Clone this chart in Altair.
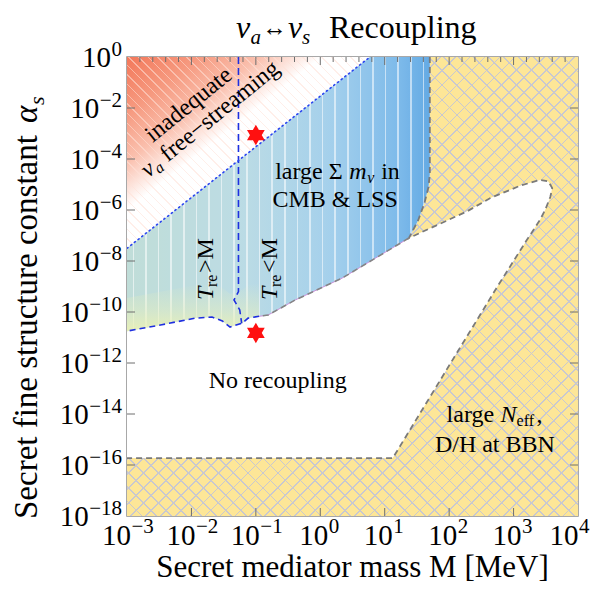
import altair as alt
import pandas as pd
import numpy as np

SERIF = "Liberation Serif"
W, H = 451, 459  # plot area in px

# ---------------- data (log10 units) ----------------
blue_top_lx = [-3.0, 0.77]
blue_top_ly = [-7.5, 0.0]

blue_right_lx = [1.70, 1.70, 1.68, 1.62, 1.52, 1.375]
blue_right_ly = [0.0, -4.6, -5.1, -5.7, -6.4, -7.1]

blue_bottom_lx = [1.375, 0.34, -0.39, -0.81, -0.95, -1.12, -1.21, -1.40, -1.52, -1.68, -1.94, -2.46, -3.0]
blue_bottom_ly = [-7.1, -8.67, -9.53, -10.12, -10.17, -10.24, -10.43, -10.59, -10.35, -10.2, -10.24, -10.5, -10.75]

white_top_lx = [1.375, 2.28, 2.64, 3.10, 3.41, 3.54, 3.60, 3.57, 3.49, 3.41]
white_top_ly = [-7.1, -6.05, -5.53, -5.05, -4.82, -4.88, -5.14, -5.49, -6.0, -6.39]
bbn_diag_lx = [3.41, 3.2, 2.75, 2.0, 1.125]
bbn_diag_ly = [-6.39, -7.2, -9.0, -12.1, -15.73]
bbn_flat_lx = [1.125, -3.0]
bbn_flat_ly = [-15.73, -15.73]

tre_lx = [-1.27, -1.27, -1.34, -1.25, -1.22]
tre_ly = [0.0, -9.2, -9.53, -9.92, -10.45]

star_lx = [-1.0, -1.0]
star_ly = [-3.06, -10.82]

x_tick_exp = [-3, -2, -1, 0, 1, 2, 3, 4]
y_tick_exp = [0, -2, -4, -6, -8, -10, -12, -14, -16, -18]

# ---------------- helpers ----------------
xs = alt.Scale(type="log", domain=[1e-3, 1e4], nice=False)
ys = alt.Scale(type="log", domain=[1e-18, 1.0], nice=False)
X = alt.X("x:Q", scale=xs, axis=None)
Y = alt.Y("y:Q", scale=ys, axis=None)


def poly(lx, ly):
    return pd.DataFrame({"x": 10.0 ** np.array(lx, float), "y": 10.0 ** np.array(ly, float),
                         "i": np.arange(len(lx))})


def polygon(df, fill, **kw):
    return alt.Chart(df).mark_line(fill=fill, strokeOpacity=0, clip=True, **kw).encode(
        x=X, y=Y, order=alt.Order("i:Q"))


def path(df, color, width, dash=None, **kw):
    extra = {"strokeDash": dash} if dash else {}
    return alt.Chart(df).mark_line(color=color, strokeWidth=width, clip=True, **extra, **kw).encode(
        x=X, y=Y, order=alt.Order("i:Q"))


def grad(stops, x1, y1, x2, y2):
    return alt.LinearGradient(gradient="linear",
                              stops=[alt.GradientStop(offset=float(o), color=c) for o, c in stops],
                              x1=x1, y1=y1, x2=x2, y2=y2)


def stripe_stops(n, frac, col, bg):
    st = []
    for k in range(n + 1):
        c = k / n
        a = max(0.0, c - frac / 2)
        b = min(1.0, c + frac / 2)
        st += [(a, bg), (a, col), (b, col), (b, bg)]
    return st


def diag_params(wp, hp, kind):
    t = (1 / hp + 1 / wp) / (1 / hp ** 2 + 1 / wp ** 2)
    if kind == "/":
        return 0, 0, t / hp, t / wp
    return 0, 1, t / hp, 1 - t / wp


def hatch(wp, hp, kind, spacing, lw, col):
    span = (wp + hp) / np.sqrt(2)
    n = int(round(span / spacing))
    x1, y1, x2, y2 = diag_params(wp, hp, kind)
    return grad(stripe_stops(n, lw / span, col, "rgba(255,255,255,0)"), x1, y1, x2, y2)


def txt(lx, ly, t, **kw):
    df = pd.DataFrame({"x": [10.0 ** lx], "y": [10.0 ** ly], "t": [t]})
    return alt.Chart(df).mark_text(font=SERIF, color="black", **kw).encode(x=X, y=Y, text="t:N")


def ptxt(px, py, t, **kw):
    df = pd.DataFrame({"t": [t]})
    return alt.Chart(df).mark_text(font=SERIF, color="black", **kw).encode(
        x=alt.value(px), y=alt.value(py), text="t:N")


layers = []

# ---- yellow BBN region with cross hatch ----
full = pd.DataFrame({"x": [1e-3], "x2": [1e4], "y": [1e-18], "y2": [1.0]})
rectenc = dict(x=X, x2="x2:Q", y=Y, y2="y2:Q")
layers.append(alt.Chart(full).mark_rect(color="#FDE697").encode(**rectenc))
for kind in ["/", "\\"]:
    layers.append(alt.Chart(full).mark_rect(fill=hatch(W, H, kind, 10.6, 1.2, "#C8C8D0")).encode(**rectenc))

# ---- white complement ----
comp = poly([-3.0] + blue_right_lx + white_top_lx[1:] + bbn_diag_lx[1:] + bbn_flat_lx[1:],
            [0.0] + blue_right_ly + white_top_ly[1:] + bbn_diag_ly[1:] + bbn_flat_ly[1:])
layers.append(polygon(comp, "#FFFFFF"))

# ---- red region ----
red = poly([-3.0, blue_top_lx[1], blue_top_lx[0]], [0.0, blue_top_ly[1], blue_top_ly[0]])
rw = (blue_top_lx[1] + 3) * W / 7
rh = (0 - blue_top_ly[0]) * H / 18
layers.append(polygon(red, grad([(0, "#F3785A"), (0.3, "#F69A80"), (0.55, "#FAC0AE"), (0.8, "#FFFFFF"), (1, "#FFFFFF")],
                                0, 0, 0.5, 0.5)))
layers.append(polygon(red, hatch(rw, rh, "\\", 6.8, 1.0, "rgba(255,225,215,0.55)")))

# ---- blue region ----
blue = poly(blue_top_lx + blue_right_lx + blue_bottom_lx[1:], blue_top_ly + blue_right_ly + blue_bottom_ly[1:])
anch = [(0.0, (192, 221, 216)), (0.37, (188, 220, 228)), (0.67, (165, 208, 236)), (0.9, (125, 186, 234)), (1.0, (100, 170, 228))]


def base_col(o):
    for (o1, c1), (o2, c2) in zip(anch[:-1], anch[1:]):
        if o <= o2:
            f = (o - o1) / (o2 - o1)
            return tuple(c1[j] + f * (c2[j] - c1[j]) for j in range(3))
    return anch[-1][1]


def hexc(c):
    return "#%02X%02X%02X" % tuple(int(round(v)) for v in c)


bw = (blue_right_lx[0] + 3) * W / 7
nstr = 24
d = 0.8 / bw
bstops = [(0.0, hexc(base_col(0)))]
for k in range(nstr):
    c = (k + 0.5) / nstr
    b0 = base_col(c - d)
    lt = tuple(v + 0.55 * (255 - v) for v in base_col(c))
    bstops += [(c - d, hexc(b0)), (c - d, hexc(lt)), (c + d, hexc(lt)), (c + d, hexc(base_col(c + d)))]
bstops.append((1.0, hexc(base_col(1))))
layers.append(polygon(blue, grad(bstops, 0, 0, 1, 0)))

# yellow-green tint along the lower-left edge of the blue region
tint_lx = blue_bottom_lx[4:]
tint_ly = blue_bottom_ly[4:]
tint = poly(tint_lx + tint_lx[::-1], tint_ly + [v + 1.3 for v in tint_ly[::-1]])
layers.append(polygon(tint, grad([(0, "rgba(232,240,190,0)"), (0.55, "rgba(232,240,190,0.45)"),
                                  (1, "rgba(236,242,180,0.9)")], 0, 0, 0, 1)))

# ---- boundary lines ----
yb = poly(blue_right_lx + white_top_lx[1:] + bbn_diag_lx[1:] + bbn_flat_lx[1:],
          blue_right_ly + white_top_ly[1:] + bbn_diag_ly[1:] + bbn_flat_ly[1:])
layers.append(path(yb, "#7A7A7A", 1.8, [6, 4]))
bb_right = poly(blue_bottom_lx[:5], blue_bottom_ly[:5])
layers.append(path(bb_right, "#C890D8", 1.0))
layers.append(path(bb_right, "#858585", 1.6, [6, 4]))
bb_left = poly(blue_bottom_lx[4:], blue_bottom_ly[4:])
layers.append(path(bb_left, "#1E2FE0", 1.6, [6, 4]))
layers.append(path(poly(tre_lx, tre_ly), "#1E2FE0", 1.6, [7, 4]))
layers.append(path(poly(blue_top_lx, blue_top_ly), "#2A45F0", 1.6, [1.2, 3.5], strokeCap="round"))

# ---- stars ----
hexa = "M0,-1L0.866,0.5L-0.866,0.5Z M0,1L-0.866,-0.5L0.866,-0.5Z"
stars = pd.DataFrame({"x": 10.0 ** np.array(star_lx), "y": 10.0 ** np.array(star_ly)})
layers.append(alt.Chart(stars).mark_point(shape=hexa, filled=True, color="#FF1010", size=420, opacity=1).encode(x=X, y=Y))

# ---- annotations ----
A = 321
FS = 24
layers += [
    txt(-2.60, -3.37, "inadequate", fontSize=FS, angle=A, align="left", baseline="alphabetic"),
    txt(-2.67, -4.75, "ν", fontSize=FS, fontStyle="italic", angle=A, align="left", baseline="alphabetic"),
    txt(-2.67, -4.75, "a", fontSize=16, fontStyle="italic", angle=A, align="left", baseline="alphabetic", dx=11, dy=4),
    txt(-2.67, -4.75, "free−streaming", fontSize=FS, angle=A, align="left", baseline="alphabetic", dx=25),
    txt(-0.70, -4.78, "large Σ", fontSize=FS, align="left", baseline="alphabetic"),
    txt(-0.70, -4.78, "m", fontSize=FS, fontStyle="italic", align="left", baseline="alphabetic", dx=74),
    txt(-0.70, -4.78, "ν", fontSize=16, fontStyle="italic", align="left", baseline="alphabetic", dx=92, dy=4),
    txt(-0.70, -4.78, "in", fontSize=FS, align="left", baseline="alphabetic", dx=106),
    txt(0.23, -5.61, "CMB & LSS", fontSize=FS, align="center", baseline="middle"),
    txt(-0.66, -12.7, "No recoupling", fontSize=FS, align="center", baseline="middle"),
    txt(2.71, -15.22, "D/H at BBN", fontSize=FS, align="center", baseline="middle"),
    txt(1.96, -14.31, "large", fontSize=FS, align="left", baseline="alphabetic"),
    txt(1.96, -14.31, "N", fontSize=FS, fontStyle="italic", align="left", baseline="alphabetic", dx=54),
    txt(1.96, -14.31, "eff", fontSize=16, align="left", baseline="alphabetic", dx=70, dy=4),
    txt(1.96, -14.31, ",", fontSize=FS, align="left", baseline="alphabetic", dx=90),
]
for lx0, sym in [(-1.665, ">M"), (-0.67, "<M")]:
    layers += [
        txt(lx0, -9.53, "T", fontSize=FS, fontStyle="italic", angle=270, align="left", baseline="alphabetic"),
        txt(lx0, -9.53, "re", fontSize=16, angle=270, align="left", baseline="alphabetic", dx=13, dy=4),
        txt(lx0, -9.53, sym, fontSize=FS, angle=270, align="left", baseline="alphabetic", dx=27),
    ]

# ---- ticks ----
tk = "#6E6E6E"
bt = pd.DataFrame({"x": [10.0 ** e for e in x_tick_exp[1:-1]]})
layers.append(alt.Chart(bt).mark_rule(color=tk, strokeWidth=1).encode(x=X, y=alt.value(H), y2=alt.value(H - 8)))
layers.append(alt.Chart(bt).mark_rule(color=tk, strokeWidth=1).encode(x=X, y=alt.value(0), y2=alt.value(8)))
minor = pd.DataFrame({"x": [10.0 ** (k / 5) for k in range(-14, 20) if k % 5 != 0]})
layers.append(alt.Chart(minor).mark_rule(color=tk, strokeWidth=1).encode(x=X, y=alt.value(0), y2=alt.value(5)))
lt_ = pd.DataFrame({"y": [10.0 ** e for e in y_tick_exp[1:-1]]})
layers.append(alt.Chart(lt_).mark_rule(color=tk, strokeWidth=1).encode(y=Y, x=alt.value(0), x2=alt.value(8)))
layers.append(alt.Chart(lt_).mark_rule(color=tk, strokeWidth=1).encode(y=Y, x=alt.value(W - 8), x2=alt.value(W)))

# ---- tick labels ----
BASE, SUP = 29, 21
xgroups = [([e for e in x_tick_exp if e < 0], 4.0), ([e for e in x_tick_exp if 0 <= e < 4], 8.0), ([4], 0.5)]
for grp, dxb in xgroups:
    df = pd.DataFrame({"x": [10.0 ** e for e in grp], "b": ["10"] * len(grp),
                       "e": [str(e).replace("-", "−") for e in grp]})
    layers.append(alt.Chart(df).mark_text(font=SERIF, fontSize=BASE, align="right", baseline="alphabetic",
                                          dx=dxb, dy=29).encode(x=X, y=alt.value(H), text="b:N"))
    layers.append(alt.Chart(df).mark_text(font=SERIF, fontSize=SUP, align="left", baseline="alphabetic",
                                          dx=dxb + 0.5, dy=17).encode(x=X, y=alt.value(H), text="e:N"))
for grp, ew in [([0], 10.5), ([-2, -4, -6, -8], 22.3), ([-10, -12, -14, -16, -18], 32.8)]:
    df = pd.DataFrame({"y": [10.0 ** e for e in grp], "b": ["10"] * len(grp),
                       "e": [str(e).replace("-", "−") for e in grp]})
    layers.append(alt.Chart(df).mark_text(font=SERIF, fontSize=SUP, align="right", baseline="alphabetic",
                                          dx=-5, dy=-1).encode(x=alt.value(0), y=Y, text="e:N"))
    layers.append(alt.Chart(df).mark_text(font=SERIF, fontSize=BASE, align="right", baseline="alphabetic",
                                          dx=-5 - ew - 0.5, dy=10).encode(x=alt.value(0), y=Y, text="b:N"))

# ---- titles ----
layers += [
    ptxt(109, -19, "ν", fontSize=32, fontStyle="italic", align="left", baseline="alphabetic"),
    ptxt(123.5, -13, "a", fontSize=21, fontStyle="italic", align="left", baseline="alphabetic"),
    ptxt(135, -21, "↔", fontSize=25, align="left", baseline="alphabetic"),
    ptxt(161, -19, "ν", fontSize=32, fontStyle="italic", align="left", baseline="alphabetic"),
    ptxt(175, -13, "s", fontSize=21, fontStyle="italic", align="left", baseline="alphabetic"),
    ptxt(202, -19, "Recoupling", fontSize=32, align="left", baseline="alphabetic"),
    ptxt(W / 2, 520, "Secret mediator mass M [MeV]", fontSize=31, align="center", baseline="alphabetic"),
    ptxt(-90, 462, "Secret fine structure constant", fontSize=33, angle=270, align="left", baseline="alphabetic"),
    ptxt(-90, 462, "α", fontSize=33, fontStyle="italic", angle=270, align="left", baseline="alphabetic", dx=396),
    ptxt(-90, 462, "s", fontSize=22, fontStyle="italic", angle=270, align="left", baseline="alphabetic", dx=414, dy=7),
]

chart = alt.layer(*layers).properties(
    width=W, height=H,
    autosize=alt.AutoSizeParams(type="none"),
    padding={"left": 119, "top": 49, "right": 12, "bottom": 74},
).configure_view(stroke="#8C8C8C", strokeWidth=1.5)

chart.save("out.html", embed_options={"renderer": "svg", "actions": False})
